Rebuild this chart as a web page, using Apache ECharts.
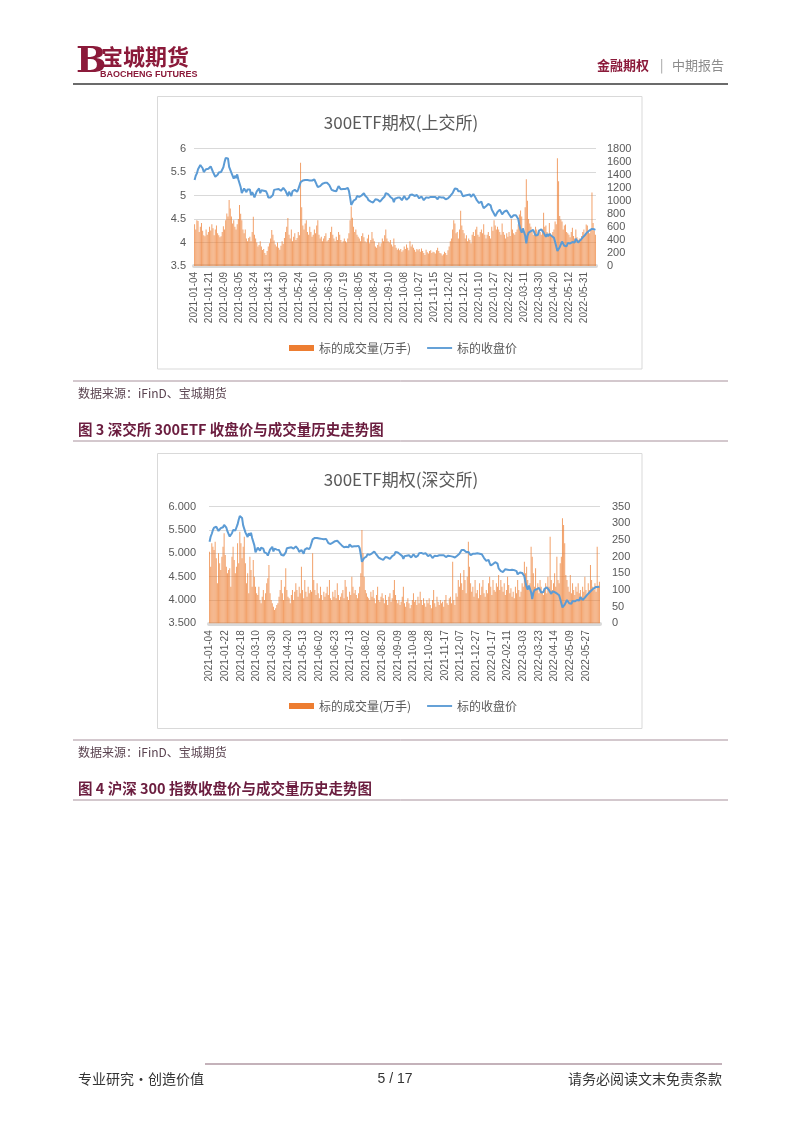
<!DOCTYPE html>
<html>
<head>
<meta charset="utf-8">
<script src="https://cdn.jsdelivr.net/npm/echarts@6/dist/echarts.min.js"></script>
<style>
html,body{margin:0;padding:0;background:#fff;}
#main{width:802px;height:1133px;}
</style>
</head>
<body>
<div id="main"></div>
<script>
// ---- trading calendar (SSE/SZSE closed days) ----
const holidays = ['2021-01-01','2021-02-11','2021-02-12','2021-02-15','2021-02-16','2021-02-17','2021-04-05','2021-05-03','2021-05-04','2021-05-05','2021-06-14','2021-09-20','2021-09-21','2021-10-01','2021-10-04','2021-10-05','2021-10-06','2021-10-07','2022-01-03','2022-01-31','2022-02-01','2022-02-02','2022-02-03','2022-02-04','2022-04-04','2022-04-05','2022-05-02','2022-05-03','2022-05-04','2022-06-03'];
const startDate = '2021-01-04';
const endDate = '2022-06-15';

// ---- 上交所 300ETF ----
const closeSH = [
5.33,5.42,5.47,5.56,5.60,5.65,5.62,5.58,5.50,5.52,5.56,5.55,5.57,
5.61,5.62,5.58,5.50,5.47,5.40,5.38,5.44,5.49,5.48,5.50,5.51,5.60,
5.71,5.80,5.78,5.79,5.61,5.62,5.48,5.49,5.36,5.42,5.37,5.45,5.34,
5.35,5.18,5.05,5.06,5.15,5.17,5.07,5.13,5.11,5.13,5.01,5.07,5.02,
4.96,4.96,5.09,5.08,5.15,5.05,5.11,5.11,5.10,5.10,5.09,5.04,4.96,
4.97,4.96,4.96,5.01,5.12,5.12,5.13,5.13,5.14,5.10,5.10,5.11,5.16,
5.12,5.10,5.04,4.99,5.08,5.06,4.99,5.09,5.13,5.12,5.11,5.08,5.13,
5.12,5.28,5.29,5.32,5.32,5.33,5.35,5.33,5.30,5.32,5.33,5.32,5.30,
5.34,5.30,5.23,5.18,5.19,5.20,5.22,5.25,5.26,5.27,5.29,5.27,5.23,
5.22,5.18,5.12,5.12,5.10,5.13,5.09,5.12,5.20,5.18,5.13,5.17,5.14,
5.15,5.14,5.18,5.16,5.10,4.96,4.80,4.84,4.89,4.86,4.92,4.99,5.01,
4.97,4.95,5.00,5.04,5.05,5.00,4.98,4.95,4.90,4.92,4.87,4.83,4.85,
4.88,4.92,4.88,4.91,4.90,4.87,4.91,4.93,4.91,4.98,5.05,5.04,5.03,
5.05,4.97,4.93,4.93,4.86,4.93,4.92,4.95,4.92,4.96,4.93,4.90,4.94,
4.99,4.97,4.91,4.95,4.95,5.01,4.98,5.02,5.03,4.99,4.97,5.01,5.00,
4.94,4.92,4.98,4.94,4.90,4.90,4.96,4.95,4.95,4.94,4.97,4.99,4.97,
4.98,4.97,4.99,4.92,4.97,4.96,4.96,4.95,4.96,4.94,4.92,4.91,4.94,
4.95,4.99,4.99,5.05,5.10,5.15,5.15,5.14,5.09,5.07,5.09,5.04,4.98,
5.02,5.00,5.04,5.01,5.02,5.02,4.97,5.01,5.03,5.00,4.95,4.90,4.89,
4.84,4.81,4.87,4.79,4.73,4.75,4.77,4.77,4.82,4.78,4.79,4.70,4.73,
4.61,4.56,4.59,4.65,4.68,4.70,4.66,4.60,4.64,4.66,4.66,4.68,4.65,
4.60,4.62,4.53,4.53,4.58,4.61,4.58,4.57,4.50,4.36,4.27,4.21,4.30,
4.28,4.15,3.98,4.14,4.21,4.25,4.24,4.26,4.27,4.21,4.15,4.17,4.16,
4.25,4.22,4.28,4.25,4.21,4.23,4.12,4.18,4.13,4.18,4.16,4.14,4.15,
4.10,4.01,4.03,3.82,3.79,3.90,3.94,4.02,4.02,3.93,3.90,3.92,3.99,
3.95,3.98,3.98,4.01,4.01,4.00,4.08,4.06,4.00,4.03,4.05,4.08,4.11,
4.15,4.16,4.17,4.22,4.23,4.26,4.25,4.29,4.27,4.28,4.27
];
const volSH = [
640,560,700,690,520,600,660,540,470,455,560,480,520,
600,545,640,580,470,560,620,500,470,440,455,520,610,
560,700,806,760,1010,880,760,650,700,600,560,640,720,
933,800,700,560,500,560,420,380,430,450,380,520,755,
480,420,360,300,320,380,300,245,260,200,168,230,300,
350,420,550,480,390,330,300,360,280,250,310,380,340,
430,520,600,735,480,420,560,380,450,500,400,430,520,
470,1580,900,620,560,650,700,520,480,600,520,450,480,
560,500,620,700,480,420,450,380,420,460,500,380,400,
430,520,600,480,420,380,450,400,520,480,400,360,380,
420,380,360,420,500,700,913,740,600,520,560,480,450,
420,380,460,500,440,380,360,420,480,350,400,520,420,
380,300,280,320,360,300,350,420,380,470,560,420,380,
360,400,330,300,420,320,280,250,270,240,260,220,240,
300,260,330,280,240,380,300,330,280,250,220,260,240,
260,220,270,230,200,170,250,210,190,230,240,200,220,
210,190,240,280,230,200,190,160,180,220,200,170,240,
300,380,420,560,700,650,500,520,420,560,846,620,550,
500,420,470,380,420,400,350,480,520,460,560,600,480,
450,520,560,500,640,480,420,480,520,460,420,600,540,
700,620,560,600,560,520,480,650,520,480,420,500,450,
520,460,720,560,500,480,520,560,640,790,850,760,560,
520,900,1330,1000,720,650,600,540,480,520,600,560,480,
560,520,480,560,817,600,620,520,480,660,500,460,520,
560,680,640,1650,1300,765,714,680,560,620,636,520,500,
480,440,520,585,460,420,560,440,400,420,380,460,520,
560,480,636,620,520,500,560,1127,660,540,480
];

// ---- 深交所 300ETF ----
const closeSZ = [
5.25,5.36,5.42,5.50,5.55,5.59,5.57,5.53,5.48,5.50,5.54,5.52,5.56,
5.61,5.60,5.55,5.47,5.44,5.36,5.37,5.43,5.50,5.47,5.49,5.51,5.62,
5.72,5.80,5.77,5.76,5.60,5.58,5.45,5.46,5.35,5.43,5.38,5.44,5.33,
5.34,5.17,5.02,5.05,5.12,5.11,5.06,5.12,5.09,5.10,5.02,5.05,5.00,
4.95,4.97,5.08,5.08,5.14,5.04,5.10,5.10,5.08,5.09,5.07,5.03,4.97,
4.97,4.95,4.97,5.02,5.11,5.11,5.12,5.13,5.13,5.09,5.10,5.10,5.15,
5.11,5.09,5.03,5.00,5.07,5.05,4.99,5.08,5.12,5.11,5.12,5.09,5.14,
5.15,5.30,5.31,5.33,5.34,5.33,5.34,5.32,5.31,5.31,5.32,5.30,5.28,
5.31,5.27,5.22,5.19,5.20,5.21,5.23,5.25,5.26,5.26,5.27,5.25,5.22,
5.21,5.17,5.13,5.13,5.11,5.14,5.10,5.13,5.19,5.17,5.14,5.16,5.15,
5.16,5.15,5.17,5.16,5.11,4.97,4.82,4.85,4.90,4.87,4.93,4.98,5.00,
4.97,4.96,5.00,5.03,5.04,5.00,4.97,4.95,4.91,4.93,4.88,4.85,4.86,
4.89,4.92,4.89,4.91,4.90,4.88,4.92,4.94,4.92,4.97,5.03,5.03,5.02,
5.04,4.98,4.94,4.94,4.88,4.94,4.93,4.95,4.93,4.96,4.94,4.91,4.94,
4.98,4.97,4.92,4.95,4.95,5.00,4.98,5.01,5.02,4.99,4.97,5.00,4.99,
4.94,4.92,4.97,4.94,4.90,4.91,4.95,4.95,4.94,4.94,4.96,4.98,4.96,
4.97,4.96,4.98,4.92,4.96,4.95,4.95,4.94,4.95,4.93,4.92,4.91,4.94,
4.95,4.98,4.99,5.03,5.07,5.08,5.07,5.06,5.03,5.01,5.03,5.00,4.96,
5.00,4.99,5.01,4.99,5.00,5.00,4.96,4.99,5.01,4.98,4.94,4.90,4.89,
4.84,4.81,4.86,4.79,4.74,4.75,4.77,4.77,4.81,4.78,4.78,4.68,4.71,
4.62,4.58,4.60,4.64,4.66,4.68,4.65,4.61,4.64,4.65,4.65,4.66,4.64,
4.60,4.62,4.55,4.55,4.59,4.61,4.58,4.57,4.51,4.38,4.28,4.22,4.31,
4.29,4.17,4.02,4.15,4.21,4.24,4.23,4.25,4.26,4.21,4.16,4.18,4.17,
4.24,4.22,4.27,4.24,4.21,4.22,4.13,4.18,4.14,4.17,4.16,4.14,4.14,
4.10,4.02,4.03,3.84,3.81,3.90,3.93,4.00,4.00,3.93,3.91,3.92,3.98,
3.95,3.97,3.97,4.00,4.00,3.99,4.06,4.05,4.00,4.03,4.05,4.08,4.11,
4.15,4.16,4.17,4.21,4.22,4.25,4.24,4.28,4.27,4.28,4.29
];
const volSZ = [
215,170,240,230,220,245,195,120,210,180,160,200,230,
270,205,170,150,160,165,110,200,230,190,150,170,240,
180,275,240,195,230,260,180,120,150,90,200,160,110,
190,140,110,90,85,110,70,60,80,100,70,90,120,
135,175,90,70,60,50,40,45,55,60,80,100,130,
90,70,110,165,100,80,75,60,85,100,70,95,120,
100,80,110,90,170,100,75,130,95,80,110,90,100,
95,210,130,100,85,120,90,75,110,85,70,95,80,
90,110,85,130,75,70,95,80,100,75,120,85,70,
80,90,100,75,130,110,80,70,95,85,140,110,90,
100,85,75,90,110,150,280,210,140,100,90,80,75,
70,95,80,100,75,60,85,110,70,65,80,90,75,
60,85,70,55,80,90,65,75,100,130,85,70,60,
70,55,65,80,110,60,50,65,75,60,45,55,70,
90,65,70,55,80,60,95,70,55,75,60,50,70,
60,75,55,45,70,100,60,50,80,65,55,70,60,
65,50,70,85,60,55,75,80,60,185,70,55,90,
80,130,110,150,120,100,160,130,90,140,245,170,120,
95,110,80,130,90,100,75,120,85,110,130,90,80,
100,90,120,140,110,85,130,100,95,120,110,145,100,
130,110,95,120,85,100,140,115,90,105,80,95,75,
110,90,130,100,80,95,120,110,185,150,170,130,100,
120,230,200,150,110,165,100,120,90,130,110,95,85,
100,120,90,140,110,260,130,100,120,150,110,200,130,
120,180,200,315,295,240,145,130,110,95,145,90,120,
100,85,110,95,120,90,100,80,110,95,140,100,85,
120,100,175,130,110,100,120,95,230,110,125
];

const volName = '标的成交量(万手)';
const closeName = '标的收盘价';

function tradingDays(start, end) {
  const hs = new Set(holidays), out = [];
  let t = Date.parse(start + 'T00:00:00Z');
  const e = Date.parse(end + 'T00:00:00Z');
  while (t <= e) {
    const d = new Date(t), wd = d.getUTCDay(), s = d.toISOString().slice(0, 10);
    if (wd !== 0 && wd !== 6 && !hs.has(s)) out.push(s);
    t += 86400000;
  }
  return out;
}
const dates = tradingDays(startDate, endDate);

const CJK = '"Noto Sans CJK SC"';
const AXF = 'Liberation Sans';
const grey = '#595959';
const maroon = '#8b1a3a';
const orange = '#ED7D31';
const blue = '#5B9BD5';
const plain = function (v) { return String(v); };

function txt(x, y, text, font, fill, align) {
  return {type: 'text', x: x, y: y, z: 10,
    style: {text: text, font: font, fill: fill, textAlign: align || 'left', align: align || 'left',
            textVerticalAlign: 'middle', verticalAlign: 'middle'}};
}
function hline(x1, x2, y, stroke, w) {
  return {type: 'line', z: 10, shape: {x1: x1, y1: y, x2: x2, y2: y}, style: {stroke: stroke, lineWidth: w}};
}

const chart = echarts.init(document.getElementById('main'), null, {width: 802, height: 1133});

function xAxisCfg(gi, interval, margin) {
  return {
    type: 'category', gridIndex: gi, data: dates, boundaryGap: true,
    axisTick: {show: false},
    axisLine: {show: true, lineStyle: {color: '#d9d9d9', width: 4}},
    axisLabel: {rotate: 90, interval: interval, fontSize: 10, color: grey, fontFamily: AXF, margin: margin}
  };
}
const lineIcon = 'path://M0,0 L40,0 L40,3 L0,3 Z';
function legendCfg(top) {
  return {left: 284, top: top, itemWidth: 25, itemHeight: 6, itemGap: 16, symbolKeepAspect: true,
    textStyle: {fontSize: 12, color: grey, fontFamily: CJK},
    data: [{name: volName, icon: 'rect', itemStyle: {color: orange, opacity: 1}},
           {name: closeName, icon: lineIcon, itemStyle: {color: blue, opacity: 1}}]};
}

const option = {
  backgroundColor: '#ffffff',
  animation: false,
  title: [
    {text: '300ETF期权(上交所)', left: 'center', top: 109,
     textStyle: {fontSize: 17, fontWeight: 'normal', color: grey, fontFamily: CJK}},
    {text: '300ETF期权(深交所)', left: 'center', top: 466,
     textStyle: {fontSize: 17, fontWeight: 'normal', color: grey, fontFamily: CJK}}
  ],
  legend: [legendCfg(337), legendCfg(695)],
  grid: [
    {left: 194, right: 206, top: 148.5, bottom: 867, containLabel: false},
    {left: 209, right: 202, top: 506.7, bottom: 509.7, containLabel: false}
  ],
  xAxis: [xAxisCfg(0, 12, 6), xAxisCfg(1, 13, 7)],
  yAxis: [
    {type: 'value', gridIndex: 0, min: 3.5, max: 6, interval: 0.5, position: 'left',
     axisLine: {show: false}, axisTick: {show: false},
     splitLine: {lineStyle: {color: '#d9d9d9', width: 1}},
     axisLabel: {fontSize: 11, color: grey, fontFamily: AXF, margin: 8, formatter: plain}},
    {type: 'value', gridIndex: 0, min: 0, max: 1800, interval: 200, position: 'right',
     axisLine: {show: false}, axisTick: {show: false}, splitLine: {show: false},
     axisLabel: {fontSize: 11, color: grey, fontFamily: AXF, margin: 11, formatter: plain}},
    {type: 'value', gridIndex: 1, min: 3.5, max: 6, interval: 0.5, position: 'left',
     axisLine: {show: false}, axisTick: {show: false},
     splitLine: {lineStyle: {color: '#d9d9d9', width: 1}},
     axisLabel: {fontSize: 11, color: grey, fontFamily: AXF, margin: 13,
                 formatter: function (v) { return v.toFixed(3); }}},
    {type: 'value', gridIndex: 1, min: 0, max: 350, interval: 50, position: 'right',
     axisLine: {show: false}, axisTick: {show: false}, splitLine: {show: false},
     axisLabel: {fontSize: 11, color: grey, fontFamily: AXF, margin: 12, formatter: plain}}
  ],
  series: [
    {name: volName, type: 'bar', xAxisIndex: 0, yAxisIndex: 1, data: volSH,
     barWidth: '40%', itemStyle: {color: orange, opacity: 0.72}, z: 2},
    {name: closeName, type: 'line', xAxisIndex: 0, yAxisIndex: 0, data: closeSH,
     symbol: 'none', showSymbol: false, lineStyle: {color: blue, width: 2}, itemStyle: {color: blue}, z: 5},
    {name: volName, type: 'bar', xAxisIndex: 1, yAxisIndex: 3, data: volSZ,
     barWidth: '40%', itemStyle: {color: orange, opacity: 0.72}, z: 2},
    {name: closeName, type: 'line', xAxisIndex: 1, yAxisIndex: 2, data: closeSZ,
     symbol: 'none', showSymbol: false, lineStyle: {color: blue, width: 2}, itemStyle: {color: blue}, z: 5}
  ],
  graphic: [
    // header
    txt(76, 63, 'B', 'bold 36px "DejaVu Serif"', maroon),
    txt(101, 57, '宝城期货', 'bold 22px ' + CJK, maroon),
    txt(100, 75, 'BAOCHENG FUTURES', 'bold 9px "Liberation Sans"', maroon),
    txt(597, 65, '金融期权', 'bold 13px ' + CJK, maroon),
    txt(660, 65, '|', '13px ' + CJK, '#9a9a9a'),
    txt(672, 65, '中期报告', '13px ' + CJK, '#8c8c8c'),
    hline(73, 728, 84, '#3a3a3a', 1.5),
    // chart boxes
    {type: 'rect', z: 0, shape: {x: 157.5, y: 96.5, width: 484.5, height: 272.5},
     style: {fill: 'none', stroke: '#d9d9d9', lineWidth: 1}},
    {type: 'rect', z: 0, shape: {x: 157.5, y: 453.5, width: 484.5, height: 275},
     style: {fill: 'none', stroke: '#d9d9d9', lineWidth: 1}},
    // captions
    hline(73, 728, 381, '#a8919c', 1),
    txt(78, 393, '数据来源：iFinD、宝城期货', '12px ' + CJK, '#5a4350'),
    txt(78, 429, '图 3 深交所 300ETF 收盘价与成交量历史走势图', 'bold 14.5px ' + CJK, '#6b1d3f'),
    hline(73, 728, 441, '#a8919c', 1),
    hline(73, 728, 740, '#a8919c', 1),
    txt(78, 752, '数据来源：iFinD、宝城期货', '12px ' + CJK, '#5a4350'),
    txt(78, 788, '图 4 沪深 300 指数收盘价与成交量历史走势图', 'bold 14.5px ' + CJK, '#6b1d3f'),
    hline(73, 728, 800, '#a8919c', 1),
    // footer
    hline(205, 722, 1064, '#8a6676', 1.2),
    txt(78, 1079, '专业研究·创造价值', '14px ' + CJK, '#333333'),
    txt(395, 1079, '5 / 17', '14px "Liberation Sans"', '#333333', 'center'),
    txt(722, 1079, '请务必阅读文末免责条款', '14px ' + CJK, '#333333', 'right')
  ]
};
chart.setOption(option);
</script>
</body>
</html>
